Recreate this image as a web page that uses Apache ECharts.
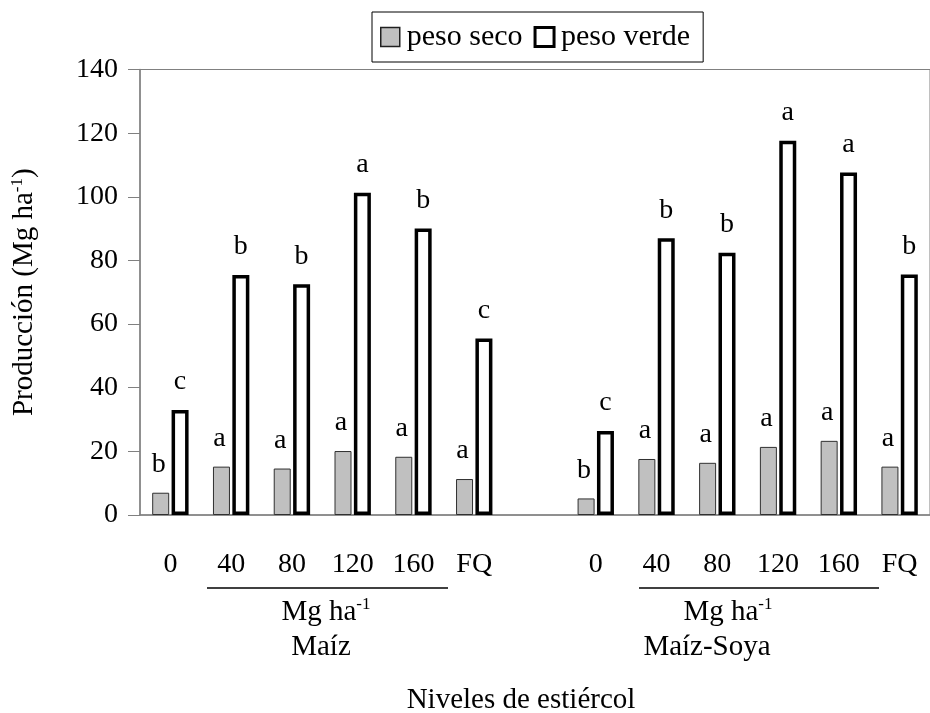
<!DOCTYPE html>
<html>
<head>
<meta charset="utf-8">
<script src="https://cdn.jsdelivr.net/npm/echarts/dist/echarts.min.js"></script>
<style>
  html, body { margin: 0; padding: 0; background: #fff; }
  #main { width: 930px; height: 713px; }
</style>
</head>
<body>
<div id="main"></div>
<script>
  // categories: Maíz (0..FQ), empty spacer, Maíz-Soya (0..FQ)
  var categories = ['0', '40', '80', '120', '160', 'FQ', '', '0', '40', '80', '120', '160', 'FQ'];

  var pesoSeco = [7, 15.2, 14.6, 20.1, 18.3, 11.3, null, 5.2, 17.6, 16.4, 21.4, 23.3, 15.2];
  var pesoVerde = [33, 75.4, 72.5, 101.3, 90, 55.5, null, 26.4, 87, 82.4, 117.6, 107.6, 75.6];

  var letrasSeco = ['b', 'a', 'a', 'a', 'a', 'a', '', 'b', 'a', 'a', 'a', 'a', 'a'];
  var letrasVerde = ['c', 'b', 'b', 'a', 'b', 'c', '', 'c', 'b', 'b', 'a', 'a', 'b'];

  var yTicks = { min: 0, max: 140, interval: 20 };

  var FONT = 'Liberation Serif';

  var chart = echarts.init(document.getElementById('main'));

  function withLetters(values, letters) {
    return values.map(function (v, i) {
      return { value: v, letter: letters[i] };
    });
  }

  var supRich = {
    m: { fontFamily: FONT, fontSize: 29, fill: '#000' },
    s: { fontFamily: FONT, fontSize: 17, fill: '#000', padding: [0, 0, 14, 0] }
  };

  var option = {
    animation: false,
    textStyle: { fontFamily: FONT, color: '#000' },
    grid: {
      left: 140, top: 69.5, width: 805, height: 445.5,
      show: true, borderColor: '#808080', borderWidth: 1
    },
    legend: {
      left: 372, top: 12,
      padding: [10, 13, 10, 8],
      borderColor: '#000', borderWidth: 1,
      itemWidth: 19, itemHeight: 19, itemGap: 11,
      textStyle: { fontFamily: FONT, fontSize: 30, color: '#000', padding: [0, 0, 0, 2] },
      data: [
        { name: 'peso seco', icon: 'rect', itemStyle: { color: '#c0c0c0', borderColor: '#202020', borderWidth: 1.5 } },
        { name: 'peso verde', icon: 'rect', itemStyle: { color: '#fff', borderColor: '#000', borderWidth: 3 } }
      ]
    },
    xAxis: {
      type: 'category',
      data: categories,
      axisLine: { lineStyle: { color: '#808080', width: 1.5 } },
      axisTick: { interval: 0, length: 10, lineStyle: { color: '#808080' } },
      axisLabel: { interval: 0, margin: 36, fontFamily: FONT, fontSize: 28, color: '#000' }
    },
    yAxis: {
      type: 'value',
      min: yTicks.min, max: yTicks.max, interval: yTicks.interval,
      axisLine: { show: true, lineStyle: { color: '#808080', width: 1.5 } },
      axisTick: { show: true, length: 12, lineStyle: { color: '#808080' } },
      splitLine: { show: false },
      axisLabel: { margin: 22, fontFamily: FONT, fontSize: 28, color: '#000' },
      name: '{m|Producción (Mg ha}{s|-1}{m|)}',
      nameLocation: 'middle',
      nameGap: 100,
      nameTextStyle: {
        rich: {
          m: { fontFamily: FONT, fontSize: 29, color: '#000' },
          s: { fontFamily: FONT, fontSize: 17, color: '#000', padding: [0, 0, 14, 0] }
        }
      }
    },
    series: [
      {
        name: 'peso seco',
        type: 'bar',
        barWidth: 17,
        barGap: '14%',
        data: withLetters(pesoSeco, letrasSeco),
        itemStyle: { color: '#c0c0c0', borderColor: '#303030', borderWidth: 1 },
        label: {
          show: true, position: 'top', distance: 14, offset: [-2, 0],
          fontFamily: FONT, fontSize: 28, color: '#000',
          formatter: function (p) { return p.data.letter; }
        }
      },
      {
        name: 'peso verde',
        type: 'bar',
        barWidth: 17,
        data: withLetters(pesoVerde, letrasVerde),
        itemStyle: { color: '#fff', borderColor: '#000', borderWidth: 3.5 },
        label: {
          show: true, position: 'top', distance: 14,
          fontFamily: FONT, fontSize: 28, color: '#000',
          formatter: function (p) { return p.data.letter; }
        }
      }
    ],
    graphic: [
      { type: 'line', shape: { x1: 207, y1: 588, x2: 448, y2: 588 }, style: { stroke: '#000', lineWidth: 1.5 } },
      { type: 'line', shape: { x1: 639, y1: 588, x2: 879, y2: 588 }, style: { stroke: '#000', lineWidth: 1.5 } },
      {
        type: 'text', x: 326, y: 612,
        style: { text: '{m|Mg ha}{s|-1}', align: 'center', verticalAlign: 'middle', rich: supRich }
      },
      {
        type: 'text', x: 728, y: 612,
        style: { text: '{m|Mg ha}{s|-1}', align: 'center', verticalAlign: 'middle', rich: supRich }
      },
      {
        type: 'text', x: 321, y: 647,
        style: { text: 'Maíz', align: 'center', verticalAlign: 'middle', fontFamily: FONT, fontSize: 29, fill: '#000' }
      },
      {
        type: 'text', x: 707, y: 647,
        style: { text: 'Maíz-Soya', align: 'center', verticalAlign: 'middle', fontFamily: FONT, fontSize: 29, fill: '#000' }
      },
      {
        type: 'text', x: 521, y: 700,
        style: { text: 'Niveles de estiércol', align: 'center', verticalAlign: 'middle', fontFamily: FONT, fontSize: 29, fill: '#000' }
      }
    ]
  };

  chart.setOption(option);
</script>
</body>
</html>
